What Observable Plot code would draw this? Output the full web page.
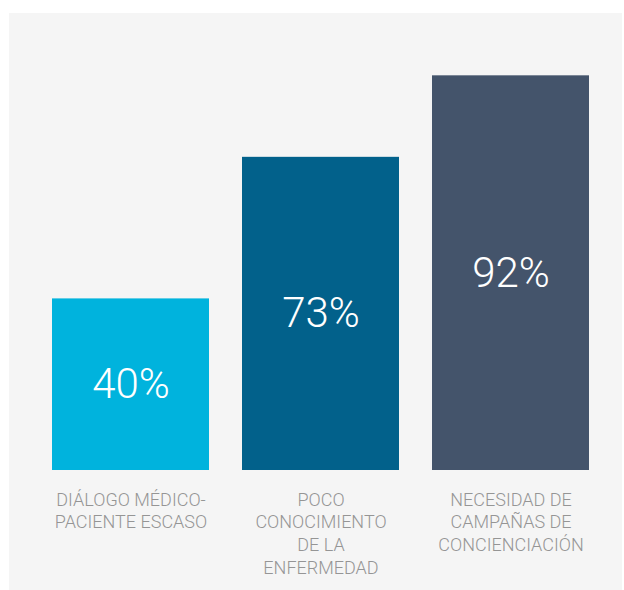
<!DOCTYPE html>
<html>
<head>
<meta charset="utf-8">
<script src="https://cdn.jsdelivr.net/npm/d3@7"></script>
<script src="https://cdn.jsdelivr.net/npm/@observablehq/plot@0.6"></script>
<style>
  html, body { margin: 0; padding: 0; background: #ffffff; }
  #panel { position: absolute; left: 9px; top: 13px; width: 613px; height: 577px; background: #f5f5f5; }
  #panel svg { display: block; font-family: Roboto, "Noto Sans", sans-serif; }
</style>
</head>
<body>
<div id="panel"></div>
<script>
const categories = [
  "DIÁLOGO MÉDICO-\nPACIENTE ESCASO",
  "POCO\nCONOCIMIENTO\nDE LA\nENFERMEDAD",
  "NECESIDAD DE\nCAMPAÑAS DE\nCONCIENCIACIÓN"
];
const values = [40, 73, 92];
const colors = ["#00b3dd", "#02618b", "#44546b"];

const data = categories.map((c, i) => ({category: c, value: values[i], color: colors[i]}));

const chart = Plot.plot({
  width: 613,
  height: 577,
  marginTop: 28,
  marginBottom: 120,
  marginLeft: 25.5,
  marginRight: 16,
  style: {background: "transparent", fontFamily: "Roboto, 'Noto Sans', sans-serif"},
  x: {domain: categories, paddingInner: 0.176, paddingOuter: 0.088, axis: null},
  y: {domain: [0, 100], axis: null},
  marks: [
    Plot.barY(data, {x: "category", y: "value", fill: "color"}),
    Plot.text(data, {
      x: "category", y: d => d.value / 2, text: d => d.value + "%",
      fill: "#ffffff", fontSize: 42, fontWeight: 300, textAnchor: "middle"
    }),
    Plot.text(data, {
      x: "category", y: () => 0, text: "category",
      lineAnchor: "top", dy: 19, lineHeight: 1.26,
      fill: "#959595", fontSize: 18, fontWeight: 300, textAnchor: "middle"
    })
  ]
});
document.getElementById("panel").appendChild(chart);
</script>
</body>
</html>
